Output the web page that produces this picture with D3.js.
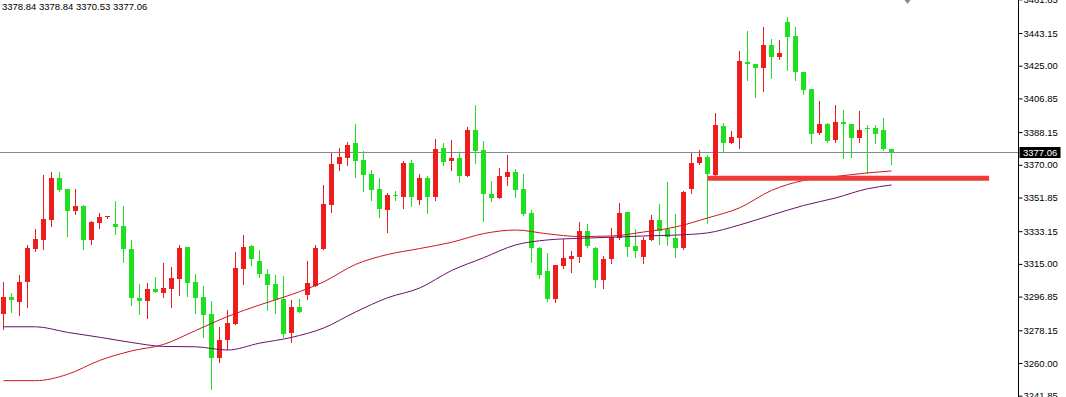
<!DOCTYPE html>
<html>
<head>
<meta charset="utf-8">
<script src="https://cdn.jsdelivr.net/npm/d3@7"></script>
<style>
  html, body { margin: 0; padding: 0; background: #fff; }
  svg { display: block; font-family: 'Liberation Sans', Arial, sans-serif; }
</style>
</head>
<body>
<svg id="chart" width="1066" height="397"></svg>
<script>
// candles, oldest first
const opens = [
  3287.2, 3296.8, 3294.0, 3305.1, 3323.1, 3328.3, 3339.4, 3362.5, 3356.6, 3344.4,
  3347.3, 3328.3, 3337.9, 3340.8, 3337.1, 3336.0, 3323.1, 3296.2, 3294.6, 3301.1,
  3298.9, 3301.1, 3306.8, 3324.4, 3305.0, 3296.6, 3287.4, 3262.9, 3272.6, 3281.8,
  3312.3, 3324.9, 3316.6, 3309.6, 3304.0, 3295.5, 3276.4, 3291.2, 3297.7, 3302.7,
  3323.4, 3347.7, 3370.4, 3373.9, 3381.9, 3372.7, 3364.9, 3356.4, 3344.9, 3353.0,
  3352.3, 3371.2, 3350.5, 3362.5, 3352.3, 3379.2, 3372.3, 3373.9, 3363.8, 3389.3,
  3378.2, 3353.8, 3351.7, 3363.4, 3366.0, 3356.6, 3343.1, 3324.0, 3311.1, 3295.5,
  3314.0, 3317.7, 3319.0, 3333.4, 3324.0, 3306.1, 3317.6, 3329.2, 3343.8, 3324.9,
  3318.7, 3328.3, 3339.4, 3334.2, 3329.5, 3323.7, 3356.4, 3370.8, 3374.5, 3364.3,
  3391.5, 3382.3, 3385.0, 3427.1, 3426.0, 3423.9, 3436.5, 3430.0, 3449.1, 3441.5,
  3421.5, 3411.9, 3387.5, 3392.5, 3383.8, 3393.9, 3392.5, 3384.7, 3390.6, 3390.6,
  3389.3, 3378.84
]
const highs = [
  3305.0, 3299.0, 3308.8, 3325.5, 3334.4, 3364.3, 3365.8, 3365.8, 3356.8, 3356.4,
  3347.6, 3339.0, 3343.4, 3341.8, 3349.9, 3347.1, 3328.3, 3303.8, 3304.2, 3307.9,
  3315.3, 3313.4, 3325.5, 3324.6, 3309.2, 3302.9, 3294.4, 3279.8, 3289.4, 3321.4,
  3331.0, 3325.5, 3322.7, 3312.2, 3308.8, 3308.5, 3295.2, 3295.5, 3316.6, 3325.5,
  3358.8, 3376.4, 3379.5, 3382.8, 3392.6, 3377.7, 3367.1, 3362.5, 3354.2, 3355.5,
  3372.3, 3372.7, 3364.9, 3363.8, 3384.4, 3381.9, 3383.8, 3376.9, 3391.1, 3403.2,
  3383.2, 3361.0, 3368.1, 3375.4, 3367.7, 3364.7, 3344.9, 3324.2, 3320.9, 3314.6,
  3328.8, 3322.2, 3338.4, 3337.1, 3324.2, 3319.4, 3334.8, 3348.6, 3344.0, 3334.2,
  3329.8, 3342.1, 3348.2, 3360.6, 3342.7, 3355.3, 3376.4, 3378.2, 3375.4, 3398.6,
  3393.0, 3388.8, 3433.2, 3444.4, 3426.2, 3446.6, 3439.8, 3439.3, 3452.2, 3446.3,
  3421.7, 3412.1, 3405.4, 3393.0, 3403.2, 3400.4, 3392.7, 3399.9, 3392.1, 3392.1,
  3396.1, 3378.84
]
const lows = [
  3278.9, 3288.5, 3286.6, 3290.9, 3322.3, 3323.1, 3336.2, 3355.6, 3330.5, 3342.7,
  3323.1, 3325.9, 3335.1, 3340.6, 3331.6, 3316.2, 3292.2, 3287.2, 3284.7, 3299.2,
  3296.8, 3291.2, 3297.9, 3297.4, 3287.9, 3274.6, 3245.4, 3260.7, 3267.6, 3281.5,
  3303.8, 3314.4, 3307.9, 3289.4, 3287.6, 3274.6, 3271.9, 3288.3, 3295.4, 3302.5,
  3323.2, 3344.0, 3367.1, 3369.9, 3363.1, 3355.6, 3350.5, 3340.9, 3332.9, 3350.5,
  3345.9, 3347.1, 3348.2, 3343.4, 3350.7, 3369.9, 3367.1, 3360.6, 3363.6, 3370.8,
  3338.8, 3349.9, 3351.5, 3358.8, 3352.3, 3342.1, 3316.2, 3307.0, 3294.4, 3293.7,
  3312.6, 3310.3, 3316.1, 3324.5, 3302.3, 3301.5, 3315.3, 3328.7, 3319.4, 3319.0,
  3315.3, 3328.1, 3326.0, 3325.5, 3319.0, 3323.5, 3354.5, 3370.4, 3337.9, 3364.2,
  3377.3, 3381.9, 3379.2, 3417.1, 3407.5, 3411.1, 3418.0, 3428.6, 3422.6, 3417.1,
  3409.1, 3382.3, 3386.9, 3382.5, 3382.8, 3373.6, 3374.5, 3382.8, 3365.3, 3381.9,
  3378.2, 3370.53
]
const closes = [
  3296.8, 3295.0, 3305.0, 3324.0, 3328.8, 3339.9, 3362.8, 3356.0, 3344.5, 3347.1,
  3328.3, 3338.4, 3340.9, 3341.6, 3335.6, 3323.1, 3295.9, 3294.6, 3300.9, 3299.4,
  3301.6, 3307.2, 3323.8, 3304.6, 3296.2, 3286.6, 3262.9, 3272.8, 3282.4, 3312.7,
  3324.4, 3317.6, 3309.4, 3303.5, 3295.0, 3276.1, 3291.1, 3288.5, 3304.2, 3324.0,
  3348.2, 3370.6, 3374.5, 3381.0, 3372.3, 3364.3, 3356.0, 3345.3, 3353.2, 3352.7,
  3371.2, 3352.3, 3362.5, 3352.3, 3378.7, 3371.7, 3373.9, 3363.8, 3389.3, 3377.8,
  3353.6, 3351.7, 3363.8, 3366.0, 3356.0, 3342.7, 3323.7, 3308.8, 3295.5, 3314.4,
  3318.1, 3319.4, 3333.3, 3324.9, 3306.1, 3317.7, 3329.8, 3343.4, 3324.5, 3322.3,
  3328.3, 3339.4, 3333.4, 3329.8, 3323.7, 3355.1, 3370.8, 3374.5, 3364.9, 3392.1,
  3382.3, 3385.6, 3427.6, 3425.8, 3423.9, 3436.5, 3430.0, 3431.9, 3441.1, 3421.3,
  3411.5, 3386.9, 3392.5, 3383.2, 3393.9, 3392.5, 3384.7, 3389.3, 3390.3, 3386.9,
  3378.6, 3377.06
]

// moving averages, read every fourth bar
const maBars = [0, 4, 8, 12, 16, 20, 24, 28, 32, 36, 40, 44, 48, 52, 56, 60, 64, 68, 72, 76, 80, 84, 88, 92, 96, 100, 104, 108, 111]
const maFast = [
  3250.2, 3250.2, 3253.7, 3261.4, 3266.7, 3270.3, 3278.0, 3285.8, 3292.2, 3298.0,
  3305.0, 3314.7, 3320.2, 3323.5, 3327.0, 3331.8, 3333.8, 3331.7, 3330.2, 3330.5,
  3332.7, 3335.5, 3340.5, 3346.1, 3355.8, 3361.3, 3363.5, 3365.5, 3366.6
]
const maSlow = [
  3280.1, 3280.1, 3277.0, 3274.3, 3271.4, 3269.2, 3269.0, 3267.2, 3271.0, 3274.2,
  3279.4, 3288.3, 3296.2, 3301.6, 3311.3, 3318.4, 3325.5, 3328.3, 3329.2, 3329.8,
  3330.5, 3331.0, 3332.2, 3336.6, 3342.1, 3347.4, 3351.6, 3356.7, 3358.8
]

// horizontal level drawn on the chart
const levelPrice = 3362.5
const levelFrom = 88
const levelTo = 123.2

const priceTicks = [3461.85, 3443.15, 3425.00, 3406.85, 3388.15, 3370.00, 3351.85, 3333.15, 3315.00, 3296.85, 3278.15, 3260.00, 3241.85]
const headerText = '3378.84 3378.84 3370.53 3377.06'

document.addEventListener('DOMContentLoaded', function () {
  drawChart()
})

function drawChart() {
  const svg = d3.select('#chart')
  const width = 1066
  const height = 397
  const axisX = 1018.5
  const last = closes.length - 1

  const data = opens.map((o, i) => ({ i: i, o: o, h: highs[i], l: lows[i], c: closes[i] }))

  const x = d3.scaleLinear().domain([0, 111]).range([3.5, 891.5])
  const y = d3.scaleLinear().domain([3241.13, 3461.47]).range([height, 0])

  svg.append('rect').attr('width', width).attr('height', height).attr('fill', '#fff')

  // bid line
  const bidY = Math.round(y(closes[last])) + 0.5
  svg.append('line')
    .attr('x1', 0).attr('x2', axisX)
    .attr('y1', bidY).attr('y2', bidY)
    .attr('stroke', '#7d8b96')
    .attr('stroke-width', 1)

  const up = '#ee1c1c'
  const down = '#1fe01f'

  const candles = svg.append('g').attr('shape-rendering', 'crispEdges')
  candles.selectAll('line')
    .data(data)
    .join('line')
    .attr('x1', d => x(d.i)).attr('x2', d => x(d.i))
    .attr('y1', d => Math.round(y(d.h)))
    .attr('y2', d => Math.round(y(d.l)) + 1)
    .attr('stroke', d => (d.c >= d.o ? up : down))
    .attr('stroke-width', 1)

  candles.selectAll('rect')
    .data(data)
    .join('rect')
    .attr('x', d => x(d.i) - 2.5)
    .attr('width', 5)
    .attr('y', d => Math.round(y(Math.max(d.o, d.c))))
    .attr('height', d => Math.max(1, Math.round(y(Math.min(d.o, d.c))) - Math.round(y(Math.max(d.o, d.c)))))
    .attr('fill', d => (d.c >= d.o ? up : down))

  const maLine = vals => d3.line()
    .curve(d3.curveMonotoneX)
    .x((d, k) => x(maBars[k]))
    .y(d => y(d))(vals)

  svg.append('path')
    .attr('d', maLine(maSlow))
    .attr('fill', 'none')
    .attr('stroke', '#6b1070')
    .attr('stroke-width', 1)

  svg.append('path')
    .attr('d', maLine(maFast))
    .attr('fill', 'none')
    .attr('stroke', '#cc1525')
    .attr('stroke-width', 1)

  // level bar
  svg.append('line')
    .attr('x1', x(levelFrom)).attr('x2', x(levelTo))
    .attr('y1', y(levelPrice)).attr('y2', y(levelPrice))
    .attr('stroke', '#f03a3a')
    .attr('stroke-width', 5)

  // chart shift marker
  const mx = x(113)
  svg.append('path')
    .attr('d', `M${mx - 3},0 L${mx + 3},0 L${mx},4 Z`)
    .attr('fill', '#8a8a8a')

  // price axis
  const axis = svg.append('g')
    .attr('transform', `translate(${axisX},0)`)
    .call(d3.axisRight(y).tickValues(priceTicks).tickSize(4).tickSizeOuter(0).tickPadding(1).tickFormat(d3.format('.2f')))
  axis.select('.domain').attr('stroke', '#000').attr('d', `M0,0V${height}`)
  axis.selectAll('.tick line').attr('stroke', '#000')
  axis.selectAll('.tick text')
    .attr('fill', '#000')
    .style('font-size', '9.5px')
    .style('font-family', "'Liberation Sans', Arial, sans-serif")

  // bid label
  svg.append('rect')
    .attr('x', axisX + 1).attr('y', bidY - 5.5)
    .attr('width', 41).attr('height', 11)
    .attr('fill', '#000')
  svg.append('text')
    .attr('x', axisX + 4.5).attr('y', bidY)
    .attr('dy', '0.34em')
    .attr('fill', '#fff')
    .style('font-size', '9.5px')
    .text(d3.format('.2f')(closes[last]))

  svg.append('text')
    .attr('x', 2).attr('y', 10)
    .attr('fill', '#000')
    .style('font-size', '9.5px')
    .text(headerText)
}
</script>
</body>
</html>
